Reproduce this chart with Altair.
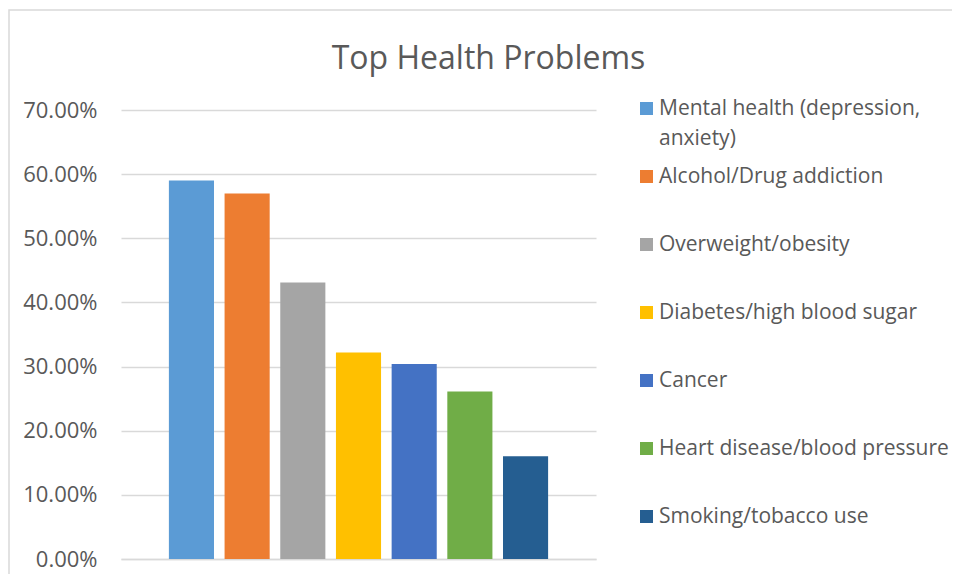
import altair as alt
import pandas as pd

categories = [
    "Mental health (depression, anxiety)",
    "Alcohol/Drug addiction",
    "Overweight/obesity",
    "Diabetes/high blood sugar",
    "Cancer",
    "Heart disease/blood pressure",
    "Smoking/tobacco use",
]
values = [0.59, 0.57, 0.431, 0.322, 0.304, 0.261, 0.16]
colors = ["#5B9BD5", "#ED7D31", "#A5A5A5", "#FFC000", "#4472C4", "#70AD47", "#255E91"]
y_ticks = [0, 0.1, 0.2, 0.3, 0.4, 0.5, 0.6, 0.7]

df = pd.DataFrame({"problem": categories, "share": values})

FONT = "Open Sans"
TEXT = "#595959"

bars = (
    alt.Chart(df)
    .mark_bar()
    .encode(
        x=alt.X(
            "problem:N",
            sort=categories,
            scale=alt.Scale(paddingInner=0.19, paddingOuter=0.86),
            axis=alt.Axis(labels=False, ticks=False, title=None, domain=True,
                          domainColor="#D9D9D9", domainWidth=1.5, grid=False),
        ),
        y=alt.Y(
            "share:Q",
            scale=alt.Scale(domain=[0, 0.7], nice=False),
            axis=alt.Axis(values=y_ticks, format=".2%", title=None, ticks=False,
                          domain=False, labelPadding=24, labelFontSize=22,
                          labelFont=FONT, labelColor=TEXT, gridColor="#D9D9D9",
                          gridWidth=1.5),
        ),
        color=alt.Color(
            "problem:N",
            sort=categories,
            scale=alt.Scale(domain=categories, range=colors),
            legend=alt.Legend(
                title=None,
                orient="none",
                legendX=515,
                legendY=-12,
                symbolType="square",
                symbolSize=169,
                symbolStrokeWidth=0,
                labelFont=FONT,
                labelFontSize=21,
                labelColor=TEXT,
                labelOffset=2,
                labelLimit=400,
                gridAlign="all",
                rowPadding=16,
                labelExpr="datum.label == 'Mental health (depression, anxiety)' ? ['Mental health (depression,', 'anxiety)'] : datum.label",
            ),
        ),
    )
)

# light grey chart-area border (decoration only)
frame = (
    alt.Chart(df)
    .transform_aggregate(n="count()")
    .mark_rect(fill="transparent", stroke="#D9D9D9", strokeWidth=1.5)
    .encode(
        x=alt.value(-112), x2=alt.value(880),
        y=alt.value(-100), y2=alt.value(520),
    )
)

chart = (
    alt.layer(frame, bars)
    .properties(
        width=475,
        height=449,
        autosize=alt.AutoSizeParams(type="none"),
        padding={"left": 113, "top": 102, "right": 356, "bottom": 15},
        title=alt.TitleParams(
            "Top Health Problems",
            font=FONT,
            fontSize=32,
            fontWeight="normal",
            color=TEXT,
            anchor="middle",
            frame="group",
            dx=130,
            dy=95,
            baseline="alphabetic",
            offset=3,
        ),
    )
    .configure(
        view=alt.ViewConfig(strokeWidth=0),
        style={"guide-label": {"lineHeight": 30}},
    )
)

chart.save("out.html", embed_options={"renderer": "svg", "actions": False})
